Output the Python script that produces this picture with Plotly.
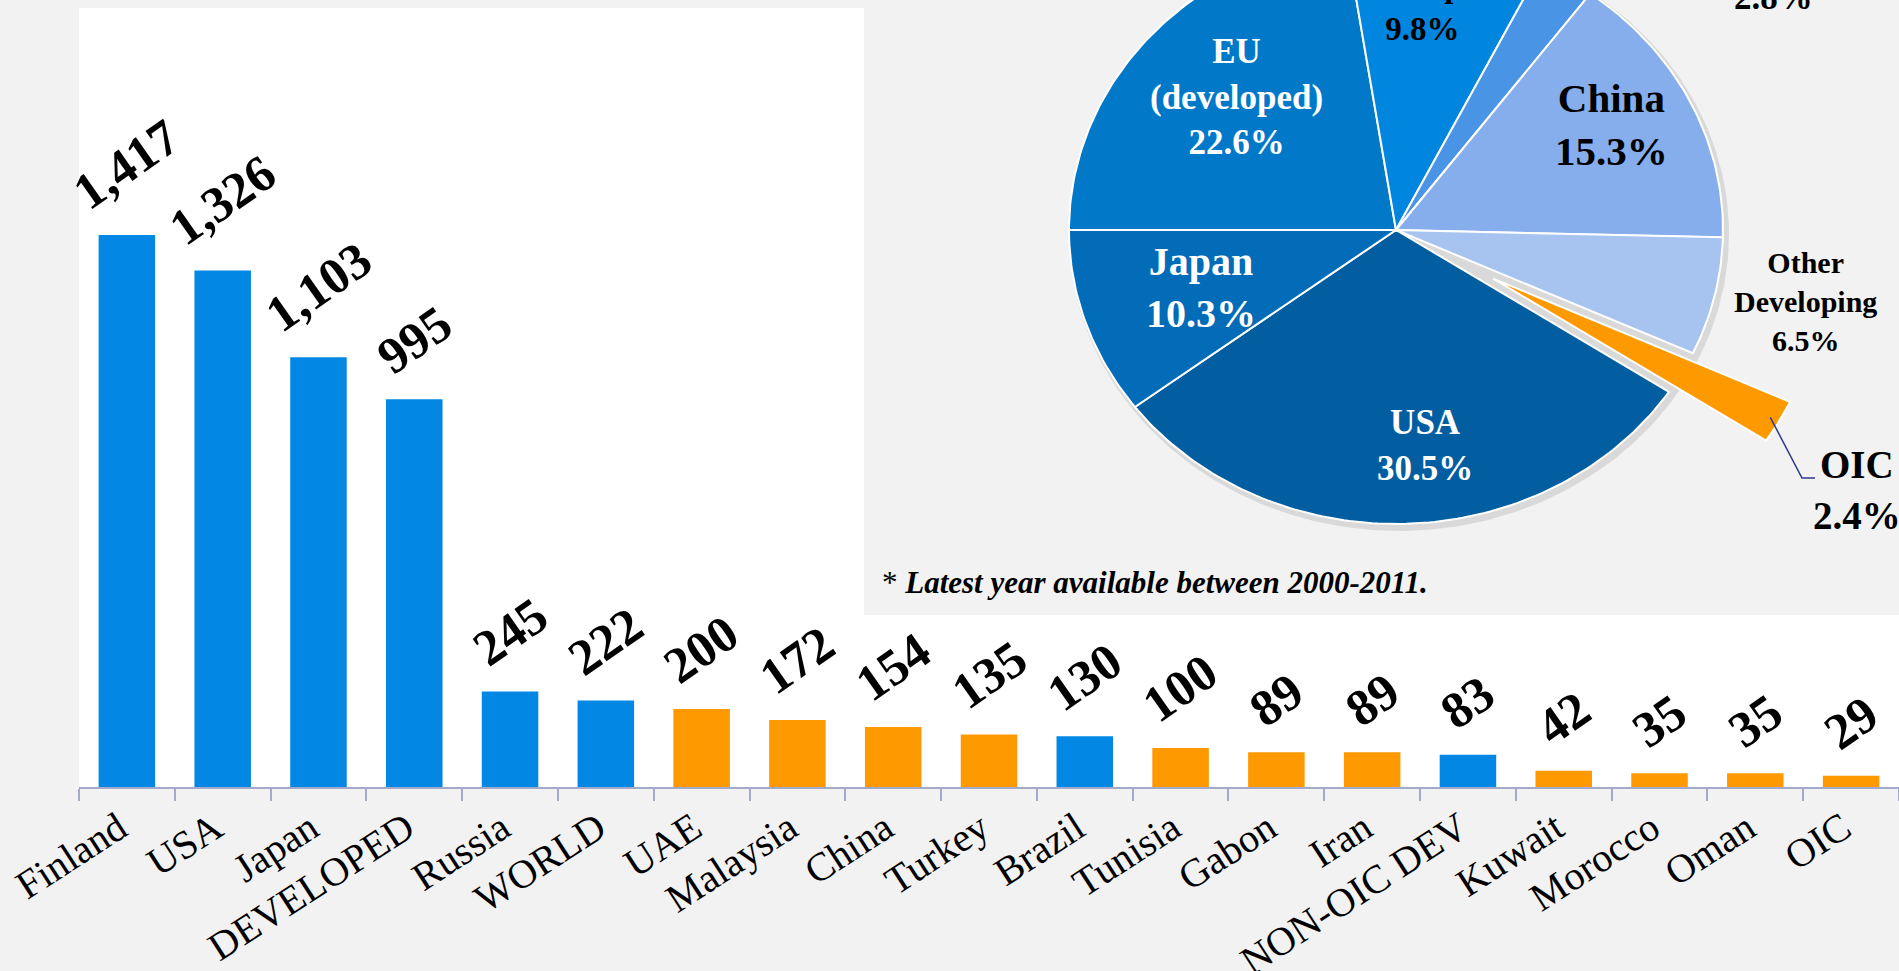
import numpy as np
import plotly.graph_objects as go

# ---------------- data ----------------
categories = ["Finland", "USA", "Japan", "DEVELOPED", "Russia", "WORLD", "UAE",
              "Malaysia", "China", "Turkey", "Brazil", "Tunisia", "Gabon", "Iran",
              "NON-OIC DEV", "Kuwait", "Morocco", "Oman", "OIC"]
values = [1417, 1326, 1103, 995, 245, 222, 200, 172, 154, 135, 130, 100, 89, 89,
          83, 42, 35, 35, 29]
highlight = [False, False, False, False, False, False, True, True, True, True,
             False, True, True, True, False, True, True, True, True]

pie_names = ["EU<br>(developed)", "Other<br>Developed", "", "China",
             "Other<br>Developing", "OIC", "USA", "Japan"]
pie_values = [22.6, 9.8, 2.8, 15.3, 6.5, 2.4, 30.5, 10.3]
note_text = "Latest year available between 2000-2011."

# ---------------- styles / layout constants ----------------
W, H = 1899, 971
ML, MR, MT, MB = 79, 0, 0, 184
PW, PH = W - ML - MR, H - MT - MB
FONT = "Liberation Serif"
BLUE, ORANGE = "#0288E4", "#FF9900"
GREY_BG = "#F2F2F2"
AXIS_COL = "#A3A9CC"

pie_colors = ["#0278C9", "#0186E0", "#4A94E6", "#86AEEC", "#A7C3F0",
              "#FF9900", "#025EA0", "#026CB8"]
BOX_X0, BOX_Y1 = 864, 615          # inset box (pixels)
CX, CY, RX, RY = 1396, 230, 327, 294
EXPLODE = {5: 0.34}
START_DEG = 180.0                  # slices run clockwise from 9 o'clock

label_style = [  # (text colour, font size, pixel x, pixel y)
    ("white", 35, 1236, 97),
    ("black", 33, 1422, -14),
    ("black", 35, 1773, -3),
    ("black", 41, 1611, 125),
    ("black", 30, 1805, 301),
    ("black", 39, 1857, 490),
    ("white", 35, 1425, 445),
    ("white", 40, 1201, 287),
]


def px_to_paper(px, py):
    return (px - ML) / PW, (MT + PH - py) / PH


fig = go.Figure()

# ---------------- bar chart ----------------
fig.add_trace(go.Bar(
    x=categories, y=values,
    marker=dict(color=[ORANGE if h else BLUE for h in highlight], line=dict(width=0)),
    width=0.59, hoverinfo="x+y", showlegend=False,
))

for c, v in zip(categories, values):
    fig.add_annotation(
        x=c, y=v, xref="x", yref="y", text=f"<b>{v:,}</b>", showarrow=False,
        textangle=-35, xanchor="center", yanchor="bottom", yshift=12,
        font=dict(family=FONT, size=51, color="black"),
    )

# ---------------- pie inset (elliptical, drawn on its own axes) ----------------
total = sum(pie_values)
t = np.linspace(0, 2 * np.pi, 361)
fig.add_trace(go.Scatter(
    x=CX + 3 + (RX + 3) * np.cos(t), y=CY + 4 + (RY + 3) * np.sin(t),
    fill="toself", fillcolor="rgba(0,0,0,0.10)", mode="lines",
    line=dict(width=0, color="rgba(0,0,0,0)"),
    xaxis="x2", yaxis="y2", hoverinfo="skip", showlegend=False,
))

angle = START_DEG
oic_tip = None
for i, (name, val) in enumerate(zip(pie_names, pie_values)):
    span = 360.0 * val / total
    a0, a1 = angle, angle - span
    angle = a1
    mid = np.radians((a0 + a1) / 2)
    ex = EXPLODE.get(i, 0.0)
    ox = CX + ex * RX * np.cos(mid)
    oy = CY - ex * RY * np.sin(mid)
    th = np.radians(np.linspace(a0, a1, max(3, int(abs(span)) + 2)))
    xs = np.concatenate([[ox], ox + RX * np.cos(th), [ox]])
    ys = np.concatenate([[oy], oy - RY * np.sin(th), [oy]])
    fig.add_trace(go.Scatter(
        x=xs, y=ys, fill="toself", fillcolor=pie_colors[i], mode="lines",
        line=dict(color="white", width=2), xaxis="x2", yaxis="y2",
        name=name.replace("<br>", " "), hoverinfo="name", showlegend=False,
    ))
    if ex > 0:
        oic_tip = (ox + 0.97 * RX * np.cos(mid), oy - 0.97 * RY * np.sin(mid))

    col, size, lx, ly = label_style[i]
    txt = f"{name}<br>{val}%" if name else f"{val}%"
    xp, yp = px_to_paper(lx, ly)
    fig.add_annotation(
        x=xp, y=yp, xref="paper", yref="paper", text=f"<b>{txt}</b>",
        showarrow=False, xanchor="center", yanchor="middle", align="center",
        font=dict(family=FONT, size=size, color=col),
    )

# leader line for the exploded OIC slice
if oic_tip is not None:
    fig.add_trace(go.Scatter(
        x=[oic_tip[0], 1802, 1815], y=[oic_tip[1], 478, 478], mode="lines",
        line=dict(color="#2B3990", width=1.5), xaxis="x2", yaxis="y2",
        hoverinfo="skip", showlegend=False,
    ))

# note
nx, ny = px_to_paper(880, 582)
fig.add_annotation(
    x=nx, y=ny, xref="paper", yref="paper", xanchor="left", yanchor="middle",
    showarrow=False,
    text=f"<span style='font-weight:normal;font-style:normal'>*</span><b><i> {note_text}</i></b>",
    font=dict(family=FONT, size=31, color="black"),
)

# ---------------- background shapes ----------------
xbp, _ = px_to_paper(BOX_X0, 0)
_, ytop = px_to_paper(0, 8)
_, ybox = px_to_paper(0, BOX_Y1)
fig.add_shape(type="rect", xref="paper", yref="paper", x0=0, x1=xbp, y0=0, y1=ytop,
              fillcolor="white", line=dict(width=0), layer="below")
fig.add_shape(type="rect", xref="paper", yref="paper", x0=xbp, x1=1, y0=0, y1=ybox,
              fillcolor="white", line=dict(width=0), layer="below")

fig.update_layout(
    width=W, height=H, autosize=False,
    margin=dict(l=ML, r=MR, t=MT, b=MB, pad=0, autoexpand=False),
    paper_bgcolor=GREY_BG, plot_bgcolor=GREY_BG,
    showlegend=False,
    xaxis=dict(
        type="category", range=[-0.5, len(categories) - 0.5], domain=[0, 1],
        tickson="boundaries", ticks="outside", ticklen=12, tickwidth=2,
        tickcolor=AXIS_COL, showline=True, linecolor=AXIS_COL, linewidth=2,
        tickangle=-33, tickfont=dict(family=FONT, size=40, color="black"),
        ticklabelshift=-8, ticklabelstandoff=0, automargin=False,
        showgrid=False, zeroline=False, fixedrange=True,
    ),
    yaxis=dict(range=[0, 2020], visible=False, fixedrange=True, automargin=False),
    xaxis2=dict(domain=[(BOX_X0 - ML) / PW, 1], range=[BOX_X0, W], visible=False,
                anchor="y2", fixedrange=True, automargin=False),
    yaxis2=dict(domain=[1 - BOX_Y1 / PH, 1], range=[BOX_Y1, 0], visible=False,
                anchor="x2", fixedrange=True, automargin=False),
)

fig.write_html(
    "out.html",
    config={"displayModeBar": False},
    post_script="document.body.style.margin='0';document.body.style.overflow='hidden';",
)
